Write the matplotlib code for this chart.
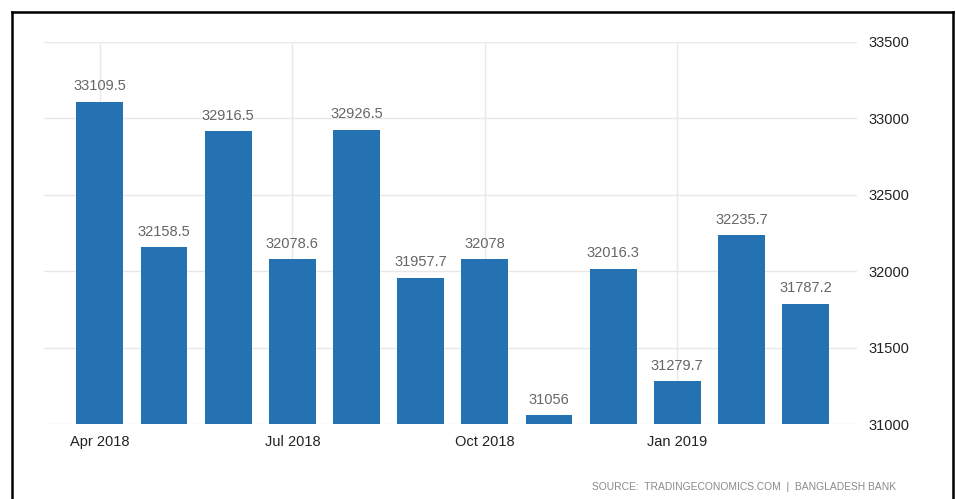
import matplotlib
matplotlib.use("Agg")
import matplotlib.pyplot as plt
from matplotlib.lines import Line2D

months = ["Apr 2018", "May 2018", "Jun 2018", "Jul 2018", "Aug 2018", "Sep 2018",
          "Oct 2018", "Nov 2018", "Dec 2018", "Jan 2019", "Feb 2019", "Mar 2019"]
values = [33109.5, 32158.5, 32916.5, 32078.6, 32926.5, 31957.7,
          32078, 31056, 32016.3, 31279.7, 32235.7, 31787.2]
value_labels = ["33109.5", "32158.5", "32916.5", "32078.6", "32926.5", "31957.7",
                "32078", "31056", "32016.3", "31279.7", "32235.7", "31787.2"]
tick_idx = [0, 3, 6, 9]
yticks = [31000, 31500, 32000, 32500, 33000, 33500]
source = "SOURCE:  TRADINGECONOMICS.COM  |  BANGLADESH BANK"

plt.rcParams['font.family'] = ['Liberation Sans', 'DejaVu Sans']

fig = plt.figure(figsize=(9.56, 4.99), dpi=100)
ax = fig.add_axes([44/956, 1-424/499, (857-44)/956, (424-42)/499])

x = list(range(len(values)))
ax.bar(x, values, width=0.73, color='#2572b3', zorder=3)
ax.set_ylim(31000, 33500)
ax.set_xlim(-0.87, 11.8)

for xi, v, lab in zip(x, values, value_labels):
    ax.annotate(lab, (xi, v), xytext=(0, 6), textcoords='offset points',
                ha='center', va='bottom', fontsize=10.5, color='#666666', zorder=4)

ax.set_xticks(tick_idx)
ax.set_xticklabels([months[i] for i in tick_idx], fontsize=10.5, color='#222222')
ax.set_yticks(yticks)
ax.set_yticklabels([str(t) for t in yticks], fontsize=10.5, color='#222222')
ax.yaxis.tick_right()
ax.tick_params(axis='both', length=0)
ax.tick_params(axis='y', pad=8.5)
ax.tick_params(axis='x', pad=8)
ax.grid(True, color='#e8e8e8', linewidth=1, zorder=0)
for s in ax.spines.values():
    s.set_visible(False)

fig.text(896/956, 1-487/499, source, ha='right', va='center', fontsize=7.4, color='#8a8a8a')

# frame around figure
lw = 1.8
fig.add_artist(Line2D([12/956, 12/956], [0, 1-12/499], transform=fig.transFigure, color='black', lw=lw))
fig.add_artist(Line2D([12/956, 953/956], [1-12/499, 1-12/499], transform=fig.transFigure, color='black', lw=lw))
fig.add_artist(Line2D([953/956, 953/956], [0, 1-12/499], transform=fig.transFigure, color='black', lw=lw))

fig.savefig("out.png", dpi=100)
